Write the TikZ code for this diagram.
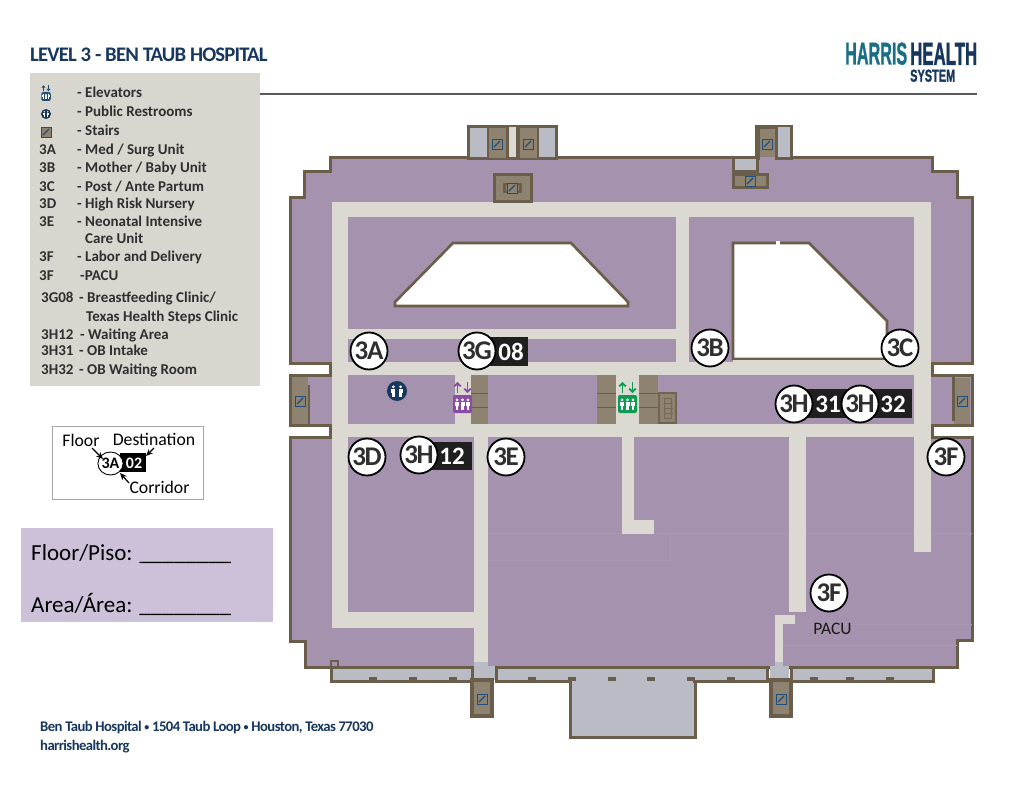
\documentclass[tikz,border=0pt]{standalone}
\usepackage{fontspec}
\usepackage{graphicx}
\usetikzlibrary{arrows.meta,shapes.geometric}
\setmainfont{Carlito}
\newfontfamily\tightfont[LetterSpace=-4]{Carlito}
\newfontfamily\badgefont[LetterSpace=-5]{Carlito}
\newfontfamily\logofont[UprightFont={* Bold},FakeBold=1.5]{Liberation Sans}
\definecolor{plum}{HTML}{A592AE}
\definecolor{wallc}{HTML}{6A5D4A}
\definecolor{tanc}{HTML}{8E8270}
\definecolor{grayc}{HTML}{B9BCC4}
\definecolor{corr}{HTML}{DCD8D2}
\definecolor{legendc}{HTML}{D9D5CF}
\definecolor{navyc}{HTML}{17375E}
\definecolor{tealc}{HTML}{1A6F85}
\definecolor{stairblue}{HTML}{1F4E79}
\definecolor{elevp}{HTML}{8B4CA5}
\definecolor{elevg}{HTML}{0E9A50}
\definecolor{inkc}{HTML}{2F2F2F}
\definecolor{formc}{HTML}{CDC1DA}
\definecolor{faintc}{HTML}{AA98B2}
\tikzset{
  corrfill/.style={fill=corr,draw=none},
  wallline/.style={draw=wallc,line width=3pt,line join=miter},
  court/.style={fill=white,draw=wallc,line width=2.6pt,line join=miter},
  badge/.style={circle,draw=black,line width=1.8pt,fill=white,minimum size=37pt,inner sep=0pt,
    font=\fontsize{27}{27}\selectfont\badgefont\bfseries,text=inkc},
  tagtext/.style={text=white,inner sep=0pt,font=\fontsize{25}{25}\selectfont\bfseries},
  legendtext/.style={anchor=base west,inner sep=0pt,text=inkc,font=\fontsize{15}{15}\selectfont\bfseries},
  keytext/.style={inner sep=0pt,text=black,font=\fontsize{17.7}{17.7}\selectfont},
  formtext/.style={anchor=base west,inner sep=0pt,text=black,font=\fontsize{23}{23}\selectfont},
  foottext/.style={anchor=base west,inner sep=0pt,text=navyc,font=\fontsize{14.7}{14.7}\selectfont\tightfont\bfseries},
  stairicon/.style={draw=stairblue,fill=tanc,line width=.9pt,minimum size=10pt,inner sep=0pt,
    path picture={\draw[stairblue,line width=1.1pt] (path picture bounding box.south west)++(2pt,2pt)--++(6pt,6pt);}},
  keyarrow/.style={black,line width=1.2pt,-{Stealth[length=7pt,width=6pt]}},
}
\newcommand\smallbullet{{\fontsize{10}{10}\selectfont\raisebox{1pt}{•}}}
% x, y, scale, colour: one small figure
\newcommand\figureman[4]{%
  \fill[#4] (#1,#2-4.2*#3) circle (1.5*#3);
  \fill[#4] (#1-2*#3,#2-2.4*#3) rectangle (#1+2*#3,#2+1.8*#3);
  \fill[#4] (#1-1.2*#3,#2+1.8*#3) rectangle (#1+1.2*#3,#2+6*#3);
}
% x, y, scale, colour
\newcommand\elevicon[4]{%
  \pgfmathsetlengthmacro\arrw{1.9pt*#3}
  \pgfmathsetlengthmacro\tipl{3pt*#3}
  \pgfmathsetlengthmacro\tipw{6.5pt*#3}
  \fill[#4,rounded corners=2pt] (#1-9.5*#3,#2-9*#3) rectangle (#1+9.5*#3,#2+9*#3);
  \figureman{#1-5.5*#3}{#2}{#3}{white}
  \figureman{#1}{#2}{#3}{white}
  \figureman{#1+5.5*#3}{#2}{#3}{white}
  \draw[#4,line width=\arrw,-{Straight Barb[length=\tipl,width=\tipw]}] (#1-5*#3,#2-11*#3) -- (#1-5*#3,#2-22*#3);
  \draw[#4,line width=\arrw,-{Straight Barb[length=\tipl,width=\tipw]}] (#1+5*#3,#2-22*#3) -- (#1+5*#3,#2-11*#3);
}
% x, y, radius
\newcommand\restroomicon[3]{%
  \fill[navyc] (#1,#2) circle (#3);
  \pgfmathsetmacro\rs{#3/10}
  \figureman{#1-3.6*\rs}{#2}{\rs}{white}
  \figureman{#1+3.6*\rs}{#2}{\rs}{white}
}
\begin{document}
\begin{tikzpicture}[x=1pt,y=-1pt]
\useasboundingbox (0,0) rectangle (1024,791);
\fill[white] (0,0) rectangle (1024,791);

% header
\node[anchor=base west,inner sep=0pt,text=navyc,font=\fontsize{20.7}{20.7}\selectfont\tightfont\bfseries] (title) at (30,61.5) {LEVEL 3 - BEN TAUB HOSPITAL};
\draw[draw=black!65,line width=2pt] (255,94) -- (977,94);
\node[anchor=south west,inner sep=0pt,text=tealc] (logoa) at (845,65) {\resizebox{62pt}{22pt}{\logofont HARRIS}};
\node[anchor=south west,inner sep=0pt,text=navyc] (logob) at (910,65) {\resizebox{67pt}{22pt}{\logofont HEALTH}};
\node[anchor=south west,inner sep=0pt,text=navyc] (logoc) at (910,82) {\resizebox{45pt}{12pt}{\logofont SYSTEM}};

% legend
\fill[legendc] (30,73) rectangle (260,386);
\elevicon{46}{96.5}{0.5}{stairblue}
\restroomicon{46}{114}{5}
\node[stairicon] (legstair) at (46,132) {};
\node[legendtext] (l1) at (77,98) {- Elevators};
\node[legendtext] (l2) at (77,117) {- Public Restrooms};
\node[legendtext] (l3) at (77,136) {- Stairs};
\node[legendtext] (k4) at (39,155) {3A}; \node[legendtext] (l4) at (77,155) {- Med / Surg Unit};
\node[legendtext] (k5) at (39,173) {3B}; \node[legendtext] (l5) at (77,173) {- Mother / Baby Unit};
\node[legendtext] (k6) at (39,192) {3C}; \node[legendtext] (l6) at (77,192) {- Post / Ante Partum};
\node[legendtext] (k7) at (39,209) {3D}; \node[legendtext] (l7) at (77,209) {- High Risk Nursery};
\node[legendtext] (k8) at (39,227) {3E}; \node[legendtext] (l8) at (77,227) {- Neonatal Intensive};
\node[legendtext] (l9) at (85,244) {Care Unit};
\node[legendtext] (k10) at (39,262) {3F}; \node[legendtext] (l10) at (77,262) {- Labor and Delivery};
\node[legendtext] (k11) at (39,280) {3F}; \node[legendtext] (l11) at (80,280) {-PACU};
\node[legendtext] (k12) at (41,302) {3G08}; \node[legendtext] (l12) at (79,302) {- Breastfeeding Clinic/};
\node[legendtext] (l13) at (86,321) {Texas Health Steps Clinic};
\node[legendtext] (k14) at (41,339) {3H12}; \node[legendtext] (l14) at (80,339) {- Waiting Area};
\node[legendtext] (k15) at (41,355) {3H31}; \node[legendtext] (l15) at (79,355) {- OB Intake};
\node[legendtext] (k16) at (41,374) {3H32}; \node[legendtext] (l16) at (79,374) {- OB Waiting Room};

% key
\draw[draw=black!35,fill=white,line width=.8pt] (52.5,426.5) rectangle (203.5,499.5);
\fill[black] (120,453) rectangle (146,472);
\node[draw=black,line width=.9pt,fill=white,ellipse,minimum width=25pt,minimum height=23pt,inner sep=0pt,text=black,font=\fontsize{16}{16}\selectfont\bfseries] (keyfloor) at (110.5,463.5) {3A};
\node[text=white,inner sep=0pt,font=\fontsize{16}{16}\selectfont\bfseries] (keydest) at (134,463.5) {02};
\node[keytext] (kfl) at (81,440) {Floor};
\node[keytext] (kde) at (154,439) {Destination};
\node[keytext] (kco) at (159.5,487) {Corridor};
\coordinate (kfa) at (92,448); \coordinate (kfb) at (103,459);
\coordinate (kda) at (154,448); \coordinate (kdb) at (146,456);
\coordinate (kca) at (129,483); \coordinate (kcb) at (120,473);
\draw[keyarrow] (kfa) -- (kfb);
\draw[keyarrow] (kda) -- (kdb);
\draw[keyarrow] (kca) -- (kcb);

% form
\fill[formc] (21,528) rectangle (273,622);
\node[formtext] (floorform) at (31,560) {Floor/Piso: \_\_\_\_\_\_\_\_};
\node[formtext] (areaform) at (31,612) {Area/Área: \_\_\_\_\_\_\_\_};

% footer
\node[foottext] (foot1) at (40,731) {Ben Taub Hospital \smallbullet{} 1504 Taub Loop \smallbullet{} Houston, Texas 77030};
\node[foottext] (foot2) at (40,750) {harrishealth.org};

% bottom strips and portico
\filldraw[fill=grayc,draw=wallc,line width=3pt] (331,664) rectangle (472,681);
\filldraw[fill=grayc,draw=wallc,line width=3pt] (496,664) rectangle (767,681);
\filldraw[fill=grayc,draw=wallc,line width=3pt] (791,664) rectangle (933,681);
\filldraw[fill=grayc,draw=wallc,line width=3pt] (570,681) rectangle (695,737);
\fill[grayc] (572,676) rectangle (693,683);

% building
\filldraw[fill=plum,wallline] (330,158) -- (932,158) -- (932,172) -- (957,172) -- (957,198) -- (972,198)
  -- (972,363) -- (932,363) -- (932,375) -- (972,375) -- (972,425) -- (932,425) -- (932,437) -- (972,437)
  -- (972,640) -- (957,640) -- (957,667) -- (305,667) -- (305,641) -- (290,641) -- (290,437)
  -- (330,437) -- (330,425) -- (290,425) -- (290,375) -- (330,375) -- (330,363) -- (290,363)
  -- (290,198) -- (304,198) -- (304,172) -- (330,172) -- cycle;
\draw[wallline,line width=2.5pt] (331,666) -- (331,661) -- (338,661) -- (338,666);
\foreach \a in {369,409,449,528,568,608,647,687,727,810,846,886} \fill[wallc] (\a,677) rectangle (\a+8,681);

% faint ghost lines
\draw[faintc,line width=.5pt] (488,533) -- (972,533) (488,560) -- (670,560) (670,533) -- (670,560) (806,624) -- (972,624) (783,645) -- (957,645);

% corridors
\fill[corrfill] (332,202) rectangle (931,217);
\fill[corrfill] (332,202) rectangle (348,628);
\fill[corrfill] (332,612) rectangle (488,628);
\fill[corrfill] (474,437) rectangle (488,665);
\fill[corrfill] (348,329) rectangle (689,339);
\fill[corrfill] (332,362) rectangle (931,375);
\fill[corrfill] (332,424) rectangle (931,437);
\fill[corrfill] (676,217) rectangle (689,375);
\fill[corrfill] (914,202) rectangle (931,552);
\fill[corrfill] (622,437) rectangle (634,534);
\fill[corrfill] (622,520) rectangle (654,534);
\fill[corrfill] (789,437) rectangle (806,612);
\fill[corrfill] (775,615) rectangle (783,665);
\fill[corrfill] (775,615) rectangle (795,624);
\fill[corrfill] (455,375) rectangle (471,424);
\fill[corrfill] (616,375) rectangle (639,424);

% courtyards
\filldraw[court] (395,302) -- (453,243) -- (571,243) -- (628,302) -- (628,306) -- (395,306) -- cycle;
\filldraw[court] (733,243) -- (809,243) -- (887,321) -- (887,359) -- (733,359) -- cycle;
\fill[white] (775.5,241) rectangle (780,245);
\fill[corrfill] (733,360.4) rectangle (890,363);

% tan service blocks
\fill[tanc] (471,375) rectangle (488,424);
\fill[tanc] (597,375) rectangle (616,424);
\fill[tanc] (639,375) rectangle (658,424);
\draw[wallc,line width=.9pt] (471,393) -- (488,393) (471,407) -- (488,407) (597,393) -- (616,393) (597,407) -- (616,407) (639,393) -- (658,393) (639,407) -- (658,407);
\filldraw[fill=tanc,draw=wallc!80!tanc,line width=2.6pt] (659,393) rectangle (676,423);
\draw[wallc!70!tanc,line width=.7pt] (664,398) rectangle (671,418) (664,403) -- (673,403) (664,408) -- (673,408) (664,413) -- (673,413);

% top towers
\fill[wallc] (467,125) rectangle (558,160);
\fill[grayc] (470,128) rectangle (487,157);
\fill[tanc] (489,128) rectangle (506,158);
\fill[corr] (509,127) rectangle (516,157);
\fill[tanc] (520,128) rectangle (537,158);
\fill[grayc] (539,128) rectangle (555,157);
\filldraw[fill=tanc,draw=wallc,line width=3pt] (494,174.5) rectangle (531,202);
\fill[wallc] (503,183) rectangle (522,193);
\fill[tanc] (506,185) rectangle (519,191);

\fill[wallc] (755,125) rectangle (793,160);
\fill[tanc] (760,129) rectangle (775,157);
\fill[grayc] (778,127) rectangle (790,157);
\fill[plum] (760,157) rectangle (775,161);
\filldraw[fill=grayc,draw=wallc,line width=3pt] (733.5,158) rectangle (757,171.5);
\filldraw[fill=tanc,draw=wallc,line width=3pt] (733.5,174.5) rectangle (767,188);

% side stair blocks
\fill[tanc] (292,377) rectangle (308,423.5);
\fill[wallc] (308,385) rectangle (310,424);
\fill[tanc] (954,378) rectangle (970,423.5);
\fill[wallc] (952,377) rectangle (954.5,421);

% bottom entries and stair towers
\fill[grayc] (474,666) rectangle (495,680);
\fill[grayc] (474,662) rectangle (488,667);
\fill[grayc] (770,666) rectangle (789,680);
\fill[grayc] (775,662) rectangle (783,667);
\filldraw[fill=tanc,draw=wallc,line width=4pt] (472,680) rectangle (492,716);
\filldraw[fill=tanc,draw=wallc,line width=4pt] (770.5,680) rectangle (790.5,716);

% stair icons
\node[stairicon] (st1) at (497,144) {};
\node[stairicon] (st2) at (528,144) {};
\node[stairicon] (st3) at (512,188) {};
\node[stairicon] (st4) at (767,144) {};
\node[stairicon] (st5) at (750,181) {};
\node[stairicon] (st6) at (300,401) {};
\node[stairicon] (st7) at (962,401) {};
\node[stairicon] (st8) at (482,699) {};
\node[stairicon] (st9) at (781,699) {};

% service icons
\restroomicon{397}{391}{10}
\elevicon{462.5}{404}{1}{elevp}
\elevicon{627.5}{404}{1}{elevg}

% room tags
\fill[black!88] (477,337) rectangle (528,366);
\fill[black!88] (419,442) rectangle (472,470);
\fill[black!88] (794,389) rectangle (912,418);
\node[tagtext] (t08) at (511,352) {08};
\node[tagtext] (t12) at (452,456) {12};
\node[tagtext] (t31) at (828,404) {31};
\node[tagtext] (t32) at (893,404) {32};

% badges
\node[badge] (b3a) at (369,351) {3A};
\node[badge] (b3g) at (477,351) {3G};
\node[badge] (b3b) at (710,348) {3B};
\node[badge] (b3c) at (900,348) {3C};
\node[badge] (b3h1) at (794,404) {3H};
\node[badge] (b3h2) at (860,404) {3H};
\node[badge] (b3d) at (367,457) {3D};
\node[badge] (b3h3) at (419,455) {3H};
\node[badge] (b3e) at (506,457) {3E};
\node[badge] (b3f) at (946,457) {3F};
\node[badge] (b3p) at (829,593) {3F};
\node[inner sep=0pt,text=black!90,font=\fontsize{17.5}{17.5}\selectfont] (pacu) at (832.5,629) {PACU};
\end{tikzpicture}
\end{document}
